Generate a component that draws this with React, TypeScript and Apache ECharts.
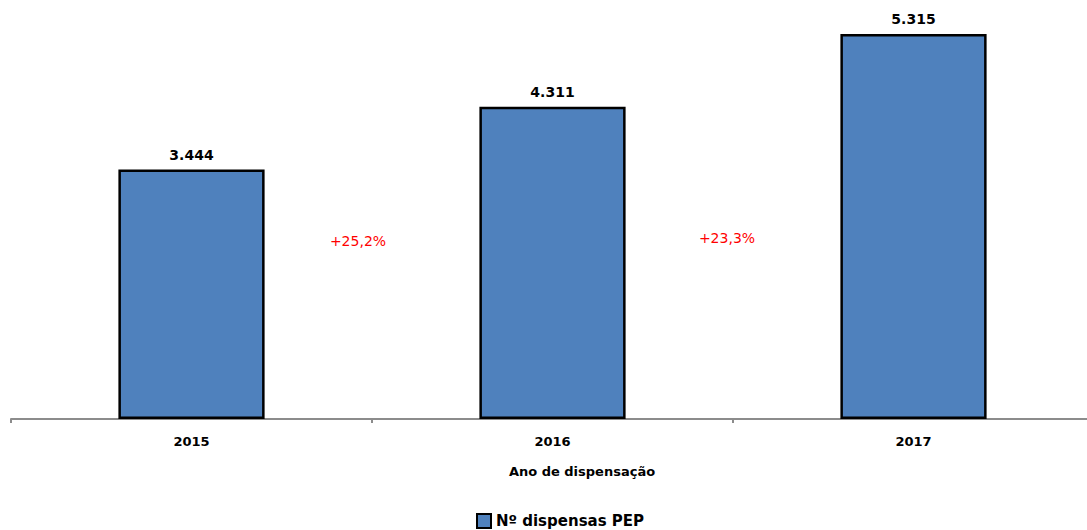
import React, { useEffect, useRef } from "react";
import * as echarts from "echarts";

const categories = ["2015", "2016", "2017"];
const dispensas = [3444, 4311, 5315];
const growthLabels = ["+25,2%", "+23,3%"];
const seriesName = "Nº dispensas PEP";
const axisName = "Ano de dispensação";

const fmt = (v: number) => {
  const s = String(Math.round(v));
  return s.replace(/\B(?=(\d{3})+(?!\d))/g, ".");
};

export default function App() {
  const ref = useRef<HTMLDivElement>(null);
  useEffect(() => {
    if (!ref.current) return;
    const chart = echarts.init(ref.current, undefined, { renderer: "svg" });
    chart.setOption({
      animation: false,
      backgroundColor: "#ffffff",
      grid: {
        left: 11,
        width: 1083,
        top: 34,
        bottom: 111,
        containLabel: false,
        outerBoundsMode: "none",
      },
      xAxis: {
        type: "category",
        data: categories,
        boundaryGap: true,
        axisLine: { lineStyle: { color: "#8c8c8c", width: 2 } },
        axisTick: { show: true, alignWithLabel: false, length: 4, lineStyle: { color: "#8c8c8c", width: 2 } },
        axisLabel: {
          margin: 16,
          fontFamily: "DejaVu Sans",
          fontWeight: "bold",
          fontSize: 13,
          color: "#000",
        },
      },
      yAxis: {
        type: "value",
        min: 0,
        max: "dataMax",
        show: false,
        splitLine: { show: false },
      },
      legend: {
        top: 513,
        left: 476,
        padding: 0,
        itemWidth: 14,
        itemHeight: 14,
        itemGap: 5,
        textStyle: { fontFamily: "DejaVu Sans", fontWeight: "bold", fontSize: 15, color: "#000", lineHeight: 16 },
        data: [{ name: seriesName, icon: "rect" }],
      },
      series: [
        {
          name: seriesName,
          type: "bar",
          data: dispensas,
          barWidth: "40.5%",
          itemStyle: { color: "#4F81BD", borderColor: "#000", borderWidth: 2.5 },
          label: {
            show: true,
            position: "top",
            distance: 8,
            formatter: (p: any) => fmt(p.value),
            fontFamily: "DejaVu Sans",
            fontWeight: "bold",
            fontSize: 14,
            color: "#000",
          },
        },
      ],
      graphic: [
        {
          type: "text",
          x: 582,
          y: 471,
          style: {
            text: axisName,
            fontFamily: "DejaVu Sans",
            fontWeight: "bold",
            fontSize: 13,
            fill: "#000",
            textAlign: "center",
            textVerticalAlign: "middle",
          },
        },
        {
          type: "text",
          x: 358,
          y: 241,
          style: {
            text: growthLabels[0],
            fontFamily: "DejaVu Sans",
            fontSize: 14,
            fill: "#ff0000",
            textAlign: "center",
            textVerticalAlign: "middle",
          },
        },
        {
          type: "text",
          x: 727,
          y: 238,
          style: {
            text: growthLabels[1],
            fontFamily: "DejaVu Sans",
            fontSize: 14,
            fill: "#ff0000",
            textAlign: "center",
            textVerticalAlign: "middle",
          },
        },
      ],
    });
    return () => chart.dispose();
  }, []);
  return (
    <div
      ref={ref}
      style={{ position: "fixed", left: 0, top: 0, width: 1087, height: 530 }}
    />
  );
}
